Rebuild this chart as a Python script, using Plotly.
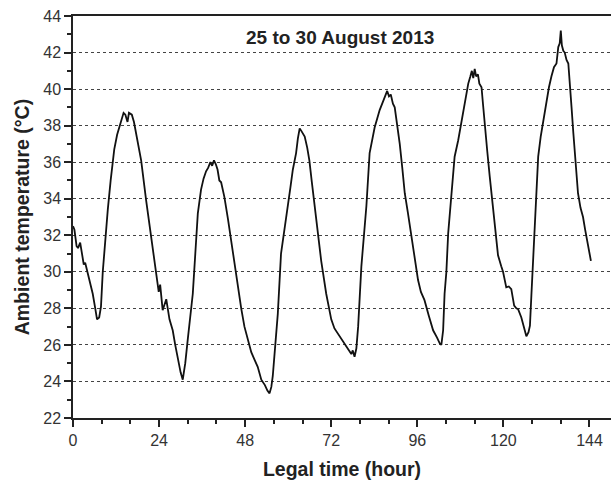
import plotly.graph_objects as go

# Hourly ambient temperature record, 25-30 August 2013
hours = [
    0.0, 0.4, 1.0, 1.4, 2.0, 2.4, 3.0, 3.4, 4.1, 5.0, 5.5, 6.2, 6.7, 7.3, 7.8, 8.3, 8.8, 9.7,
    10.5, 11.5, 12.3, 12.9, 13.6, 14.1, 14.6, 15.2, 15.6, 16.4, 17.0, 17.6, 19.0, 20.4, 21.8,
    23.2, 23.9, 24.3, 24.6, 25.0, 25.5, 26.0, 26.9, 27.8, 28.5, 29.2, 30.0, 30.6, 31.3, 32.0,
    32.7, 33.4, 34.1, 34.8, 35.7, 36.4, 37.1, 37.7, 38.3, 38.8, 39.3, 39.8, 40.3, 40.8, 41.3,
    42.2, 43.2, 44.1, 45.0, 46.0, 46.9, 47.8, 48.7, 49.7, 50.6, 51.5, 52.5, 53.5, 54.2, 54.8,
    55.3, 55.7, 56.4, 57.1, 58.0, 59.0, 59.9, 60.6, 61.3, 62.2, 62.7, 63.2, 63.7, 64.6, 65.3,
    65.9, 66.6, 67.3, 68.2, 69.2, 70.6, 72.0, 72.9, 73.9, 74.8, 75.7, 76.6, 77.6, 78.0, 78.5,
    79.0, 79.5, 80.4, 81.1, 81.8, 82.7, 83.4, 84.1, 85.5, 86.3, 87.0, 87.6, 88.1, 88.6, 89.2,
    89.7, 90.4, 91.1, 91.8, 92.5, 93.4, 94.3, 95.2, 96.2, 97.0, 98.0, 99.2, 100.4, 101.5,
    102.2, 102.7, 103.2, 103.6, 104.1, 104.6, 105.0, 105.5, 106.4, 107.4, 108.1, 108.8,
    109.5, 110.2, 110.8, 111.2, 111.6, 112.0, 112.4, 112.9, 113.3, 113.9, 114.3, 114.8,
    115.5, 116.2, 117.0, 117.6, 118.5, 119.4, 119.9, 120.8, 121.5, 122.2, 123.0, 123.6,
    124.1, 125.0, 125.8, 126.4, 127.0, 127.4, 127.8, 128.3, 128.7, 129.2, 129.7, 130.4,
    131.1, 132.0, 132.7, 133.4, 134.1, 134.8, 135.3, 135.7, 136.0, 136.3, 136.7, 137.1,
    137.6, 138.1, 138.5, 139.0, 139.5, 140.1, 140.8, 141.5, 142.2, 142.8, 143.3, 144.4,
]
temperature = [
    32.5, 32.3, 31.4, 31.3, 31.6, 31.0, 30.4, 30.5, 29.9, 29.2, 28.8, 28.0, 27.4, 27.5, 28.1,
    30.0, 31.3, 33.4, 35.0, 36.7, 37.5, 37.9, 38.5, 38.7, 38.6, 38.2, 38.7, 38.6, 38.2, 37.6,
    36.1, 33.9, 31.9, 29.6, 28.9, 29.3, 28.8, 27.9, 28.2, 28.5, 27.4, 26.8, 26.0, 25.2, 24.5,
    24.1, 25.0, 26.3, 27.5, 28.8, 31.0, 33.2, 34.5, 35.1, 35.5, 35.7, 36.0, 35.8, 36.1, 35.9,
    35.6, 35.0, 34.9, 34.1, 32.9, 31.7, 30.4, 29.2, 28.0, 27.0, 26.3, 25.6, 25.2, 24.8, 24.1,
    23.8, 23.5, 23.35, 23.7, 24.3, 26.0, 27.7, 31.0, 32.5, 33.6, 34.6, 35.6, 36.5, 37.3, 37.85,
    37.7, 37.4, 36.8, 36.1, 34.9, 33.75, 32.2, 30.6, 28.8, 27.4, 26.9, 26.6, 26.4, 26.1, 25.8,
    25.5, 25.7, 25.35, 25.8, 27.0, 30.3, 32.0, 33.6, 36.5, 37.3, 37.9, 38.85, 39.3, 39.6, 39.9,
    39.6, 39.7, 39.2, 39.0, 38.1, 37.0, 35.7, 34.3, 33.2, 32.1, 30.8, 29.55, 28.9, 28.45, 27.6,
    26.8, 26.4, 26.1, 26.0, 26.8, 28.8, 30.0, 32.1, 33.0, 34.3, 36.3, 37.2, 38.0, 38.85, 39.5,
    40.3, 40.7, 41.0, 40.6, 41.1, 40.7, 40.8, 40.3, 40.1, 39.2, 37.9, 36.6, 35.2, 33.6, 32.5,
    30.9, 30.3, 30.0, 29.15, 29.2, 29.05, 28.15, 28.0, 27.96, 27.5, 26.96, 26.47, 26.7, 27.05,
    28.7, 30.5, 32.1, 34.3, 36.3, 37.4, 38.3, 39.4, 40.1, 40.7, 41.2, 41.4, 42.3, 42.5, 43.2,
    42.4, 42.1, 42.0, 41.6, 41.4, 40.5, 39.0, 37.6, 36.0, 34.3, 33.5, 33.0, 32.3, 31.7, 30.6,
]

x_ticks = [0, 24, 48, 72, 96, 120, 144]
y_ticks = list(range(22, 45, 2))
period_label = "25 to 30 August 2013"

FONT = "Arial, 'Liberation Sans', sans-serif"
INK = "#222222"

fig = go.Figure(
    go.Scatter(
        x=hours,
        y=temperature,
        mode="lines",
        line=dict(color="#111111", width=1.8),
        showlegend=False,
        hoverinfo="skip",
    )
)

fig.add_annotation(
    x=74.5, y=42.85, xref="x", yref="y",
    text=f"<b>{period_label}</b>",
    showarrow=False,
    font=dict(family=FONT, size=19, color=INK),
)

fig.update_xaxes(
    range=[0, 150],
    tickvals=x_ticks,
    ticktext=[str(v) for v in x_ticks],
    ticks="outside", ticklen=7, tickwidth=1.5, tickcolor=INK,
    minor=dict(dtick=8, tick0=0, ticks="outside", ticklen=4, tickwidth=1.5, tickcolor=INK, showgrid=False),
    showline=True, linecolor=INK, linewidth=1.5, mirror=True,
    showgrid=False, zeroline=False,
    tickfont=dict(family=FONT, size=16, color="#333333"),
    title=dict(text="<b>Legal time (hour)</b>", font=dict(family=FONT, size=19.5, color=INK), standoff=14),
)

fig.update_yaxes(
    range=[22, 44],
    tickvals=y_ticks,
    ticktext=[str(v) for v in y_ticks],
    ticks="outside", ticklen=7, tickwidth=1.5, tickcolor=INK,
    minor=dict(dtick=1, tick0=0, ticks="outside", ticklen=4, tickwidth=1.5, tickcolor=INK, showgrid=False),
    showline=True, linecolor=INK, linewidth=1.5, mirror=False,
    showgrid=True, gridcolor="#444444", gridwidth=1, griddash="dot",
    zeroline=False,
    tickfont=dict(family=FONT, size=16, color="#333333"),
    title=dict(text="<b>Ambient temperature (°C)</b>", font=dict(family=FONT, size=19.5, color=INK), standoff=8),
)

fig.update_layout(
    width=611, height=483,
    margin=dict(l=73, r=0, t=16, b=65),
    plot_bgcolor="white",
    paper_bgcolor="white",
)

fig.write_html("out.html")
